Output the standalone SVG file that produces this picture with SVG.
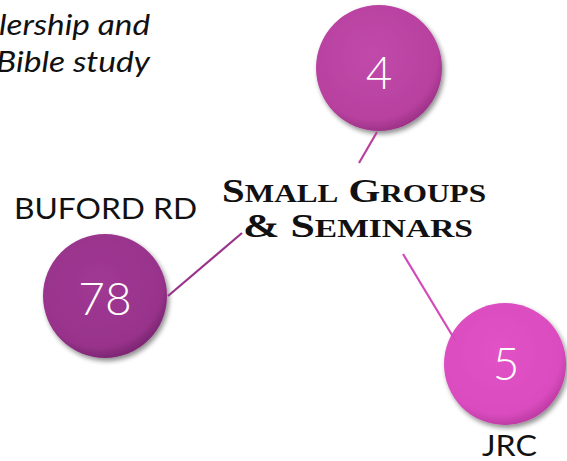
<svg xmlns="http://www.w3.org/2000/svg" width="567" height="461" viewBox="0 0 567 461">
<defs>
<style>
.lbl{font-family:Lato,"Noto Sans",sans-serif;font-weight:400;font-size:29px;fill:#111;}
.num{font-family:Lato,"Noto Sans",sans-serif;font-weight:300;font-size:46px;fill:#fff;text-anchor:middle;}
.ital{font-family:Lato,"Noto Sans",sans-serif;font-style:italic;font-weight:400;font-size:29px;fill:#111;}
.title{font-family:"Liberation Serif",serif;font-weight:bold;font-size:34px;fill:#111;}
.sc{font-size:26px;}
.conn{fill:none;stroke-width:2.2;}
</style>
<filter id="sh" x="-20%" y="-20%" width="150%" height="150%">
<feGaussianBlur in="SourceAlpha" stdDeviation="2.5"/>
<feOffset dx="1.5" dy="3" result="b"/>
<feComponentTransfer><feFuncA type="linear" slope="0.45"/></feComponentTransfer>
<feMerge><feMergeNode/><feMergeNode in="SourceGraphic"/></feMerge>
</filter>
<radialGradient id="g1" cx="0.45" cy="0.4" r="0.6">
<stop offset="0" stop-color="#c049aa"/><stop offset="0.85" stop-color="#b8419f"/><stop offset="1" stop-color="#9e3389"/>
</radialGradient>
<radialGradient id="g2" cx="0.45" cy="0.4" r="0.6">
<stop offset="0" stop-color="#a03893"/><stop offset="0.85" stop-color="#98338b"/><stop offset="1" stop-color="#7e2674"/>
</radialGradient>
<radialGradient id="g3" cx="0.45" cy="0.4" r="0.6">
<stop offset="0" stop-color="#e152c6"/><stop offset="0.85" stop-color="#da4cbf"/><stop offset="1" stop-color="#c03ca6"/>
</radialGradient>
</defs>
<rect width="567" height="461" fill="#fff"/>
<g id="note">
<text class="ital" x="-1" y="35" textLength="151" lengthAdjust="spacingAndGlyphs">lership and</text>
<text class="ital" x="-4" y="72" textLength="154" lengthAdjust="spacingAndGlyphs">Bible study</text>
</g>
<g id="center">
<text class="title" x="222" y="202" textLength="264" lengthAdjust="spacingAndGlyphs">S<tspan class="sc">MALL</tspan> G<tspan class="sc">ROUPS</tspan></text>
<text class="title" x="243" y="237" textLength="230" lengthAdjust="spacingAndGlyphs">&amp; S<tspan class="sc">EMINARS</tspan></text>
</g>
<g id="node-4">
<circle cx="379" cy="68" r="63" fill="url(#g1)" filter="url(#sh)"/>
<text class="num" x="379" y="89">4</text>
</g>
<g id="node-78">
<text class="lbl" x="14" y="219" textLength="183" lengthAdjust="spacingAndGlyphs">BUFORD RD</text>
<circle cx="105" cy="296" r="62" fill="url(#g2)" filter="url(#sh)"/>
<text class="num" x="105" y="315">78</text>
</g>
<g id="node-5">
<circle cx="505" cy="364" r="61" fill="url(#g3)" filter="url(#sh)"/>
<text class="num" x="506" y="380">5</text>
<text class="lbl" x="482" y="456" textLength="55" lengthAdjust="spacingAndGlyphs">JRC</text>
</g>
<g id="connectors">
<line class="conn" x1="377" y1="132" x2="359" y2="163" stroke="#b8419f"/>
<line class="conn" x1="242" y1="233" x2="168" y2="296" stroke="#98338b"/>
<line class="conn" x1="403" y1="254" x2="455" y2="340" stroke="#d24ab8"/>
</g>
</svg>
